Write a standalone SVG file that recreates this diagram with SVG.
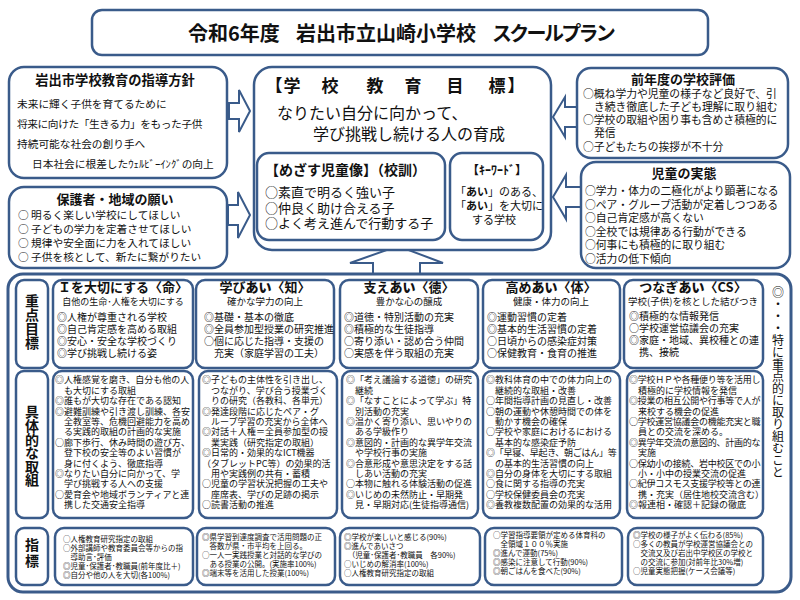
<svg xmlns="http://www.w3.org/2000/svg" width="800" height="600" viewBox="0 0 800 600">
<style>
.b{fill:#fff;stroke:#3a5b8a;stroke-width:2.5}
.bo{fill:#fff;stroke:#3a5b8a;stroke-width:3}
.ar{fill:#fff;stroke:#3a5b8a;stroke-width:2;stroke-linejoin:miter}
text{font-family:"Noto Sans CJK JP","Noto Sans CJK SC",sans-serif;fill:#111}
.h{font-weight:bold}
.m{text-anchor:middle}
.s1{font-size:10.7px}
.s2{font-size:10.8px}
.r1{font-size:10px}
.r2{font-size:9px}
.r3{font-size:7.5px}
.sub{font-size:9.5px}
.ct{font-size:13px;font-weight:bold;text-anchor:middle}
.vl{writing-mode:vertical-rl;font-size:14px;font-weight:bold}
.vt{writing-mode:vertical-rl;font-size:12px}
.tight{letter-spacing:-0.25px}
</style>
<rect width="800" height="600" fill="#fff"/>

<g id="connectors">
  <polygon class="ar" points="229,103 239,103 239,90 250,111 239,132 239,119 229,119"/>
  <polygon class="ar" points="228,205 238,205 238,192 250,215 238,238 238,225 228,225"/>
  <polygon class="ar" points="577,107 565,107 565,97 553,117 565,137 565,127 577,127"/>
  <polygon class="ar" points="582,187 566,187 566,175 553,197 566,219 566,207 582,207"/>
  <polyline class="ar" points="373,276 373,263 350,263 398,246 443,263 420,263 420,276"/>
</g>

<g id="title">
  <rect class="b" x="92" y="10" width="616" height="45" rx="10"/>
  <text class="h" font-size="20" y="40.5"><tspan x="188">令和6年度</tspan><tspan x="296">岩出市立山崎小学校</tspan><tspan x="492" letter-spacing="-2.7">スクールプラン</tspan></text>
</g>

<g id="shidou">
  <rect class="b" x="9" y="67" width="218" height="111" rx="15"/>
  <text class="h m" x="115" y="85" font-size="13.3">岩出市学校教育の指導方針</text>
  <text class="s1"><tspan x="17" y="108">未来に輝く子供を育てるために</tspan><tspan x="17" y="128" letter-spacing="-0.4">将来に向けた「生きる力」をもった子供</tspan><tspan x="17" y="148">持続可能な社会の創り手へ</tspan><tspan x="32" y="168">日本社会に根差したｳｪﾙﾋﾞｰｲﾝｸﾞの向上</tspan></text>
</g>

<g id="negai">
  <rect class="b" x="9" y="187" width="218" height="81" rx="15"/>
  <text class="h m" x="115" y="204" font-size="13">保護者・地域の願い</text>
  <text class="s1"><tspan x="18" y="219">○ 明るく楽しい学校にしてほしい</tspan><tspan x="18" y="233">○ 子どもの学力を定着させてほしい</tspan><tspan x="18" y="247">○ 規律や安全面に力を入れてほしい</tspan><tspan x="18" y="261">○ 子供を核として、新たに繋がりたい</tspan></text>
</g>

<g id="mokuhyo">
  <rect class="b" x="254" y="67" width="297" height="183" rx="18"/>
  <text class="h m" font-size="17" y="91.5"><tspan x="274">【</tspan><tspan x="292">学</tspan><tspan x="330">校</tspan><tspan x="375">教</tspan><tspan x="413">育</tspan><tspan x="455">目</tspan><tspan x="497">標</tspan><tspan x="516">】</tspan></text>
  <text font-size="16"><tspan x="277" y="119">なりたい自分に向かって、</tspan><tspan x="313" y="140">学び挑戦し続ける人の育成</tspan></text>
</g>

<g id="jidouzou">
  <rect class="b" x="257" y="153" width="188" height="87" rx="12"/>
  <text x="265" y="175.3" font-size="14" font-weight="bold">【めざす児童像】（校訓）</text>
  <text font-size="13"><tspan x="265" y="197">○素直で明るく強い子</tspan><tspan x="265" y="213">○仲良く助け合える子</tspan><tspan x="265" y="228">○よく考え進んで行動する子</tspan></text>
</g>

<g id="keyword">
  <rect class="b" x="450" y="153" width="93" height="87" rx="12"/>
  <text class="h m" x="497" y="174.5" font-size="12">【ｷｰﾜｰﾄﾞ】</text>
  <text font-size="11"><tspan x="455" y="196">「</tspan><tspan font-weight="bold">あい</tspan><tspan>」のある、</tspan><tspan x="455" y="210">「</tspan><tspan font-weight="bold">あい</tspan><tspan>」を大切に</tspan><tspan x="472" y="224">する学校</tspan></text>
</g>

<g id="hyouka">
  <rect class="b" x="577" y="68" width="211" height="90" rx="14"/>
  <text class="h m" x="683" y="84" font-size="13">前年度の学校評価</text>
  <text class="s2"><tspan x="583" y="98">○概ね学力や児童の様子など良好で、引</tspan><tspan x="594" y="111">き続き徹底した子ども理解に取り組む</tspan><tspan x="583" y="124">○学校の取組や困り事も含めさ積極的に</tspan><tspan x="594" y="137">発信</tspan><tspan x="583" y="151">○子どもたちの挨拶が不十分</tspan></text>
</g>

<g id="jittai">
  <rect class="b" x="581" y="162" width="209" height="106" rx="15"/>
  <text class="h m" x="684" y="178" font-size="13">児童の実態</text>
  <text class="s2"><tspan x="585" y="195">○学力・体力の二極化がより顕著になる</tspan><tspan x="585" y="208.5">○ペア・グループ活動が定着しつつある</tspan><tspan x="585" y="222">○自己肯定感が高くない</tspan><tspan x="585" y="235.5">○全校では規律ある行動ができる</tspan><tspan x="585" y="249">○何事にも積極的に取り組む</tspan><tspan x="585" y="262.5">○活力の低下傾向</tspan></text>
</g>

<g id="plan">
  <rect class="bo" x="8" y="274" width="783" height="318" rx="15"/>
</g>

<g id="label-juten">
  <rect class="b" x="16" y="280" width="32" height="88" rx="8"/>
  <text class="vl" x="32" y="294">重点目標</text>
</g>
<g id="label-torikumi">
  <rect class="b" x="16" y="371" width="32" height="147" rx="8"/>
  <text class="vl" x="32" y="405" letter-spacing="-0.4">具体的な取組</text>
</g>
<g id="label-shihyo">
  <rect class="b" x="16" y="528" width="32" height="57" rx="8"/>
  <text class="vl" x="32" y="538" font-size="16" letter-spacing="2">指標</text>
</g>

<g id="note">
  <text class="vt" x="778" y="286">◎・・・特に重点的に取り組むこと</text>
</g>

<g id="juten-inochi">
  <rect class="b" x="53" y="280" width="140" height="88" rx="9"/>
  <text class="ct" x="123" y="292">Ｉを大切にする〈命〉</text>
  <text class="m" x="123" y="304.6" font-size="9">自他の生命･人権を大切にする</text>
  <text class="r1"><tspan x="57" y="320.8">◎人権が尊重される学校</tspan><tspan x="57" y="332.8">◎自己肯定感を高める取組</tspan><tspan x="57" y="344.8">◎安心・安全な学校づくり</tspan><tspan x="57" y="356.8">◎学び挑戦し続ける姿</tspan></text>
</g>
<g id="juten-chi">
  <rect class="b" x="196" y="280" width="138" height="88" rx="9"/>
  <text class="ct" x="265" y="292">学び<tspan font-weight="900">あい</tspan>〈知〉</text>
  <text class="sub m" x="265" y="304.6">確かな学力の向上</text>
  <text class="r1"><tspan x="204" y="320.8">◎基礎・基本の徹底</tspan><tspan x="204" y="332.8">◎全員参加型授業の研究推進</tspan><tspan x="204" y="344.8">○個に応じた指導・支援の</tspan><tspan x="204" y="356.8">　充実（家庭学習の工夫）</tspan></text>
</g>
<g id="juten-toku">
  <rect class="b" x="340" y="280" width="138" height="88" rx="9"/>
  <text class="ct" x="409" y="292">支え<tspan font-weight="900">あい</tspan>〈徳〉</text>
  <text class="sub m" x="409" y="304.6">豊かな心の醸成</text>
  <text class="r1"><tspan x="344" y="320.8">◎道徳・特別活動の充実</tspan><tspan x="344" y="332.8">◎積極的な生徒指導</tspan><tspan x="344" y="344.8">○寄り添い・認め合う仲間</tspan><tspan x="344" y="356.8">○実感を伴う取組の充実</tspan></text>
</g>
<g id="juten-tai">
  <rect class="b" x="483" y="280" width="137" height="88" rx="9"/>
  <text class="ct" x="551" y="292">高め<tspan font-weight="900">あい</tspan>〈体〉</text>
  <text class="sub m" x="551" y="304.6">健康・体力の向上</text>
  <text class="r1"><tspan x="487" y="320.8">◎運動習慣の定着</tspan><tspan x="487" y="332.8">◎基本的生活習慣の定着</tspan><tspan x="487" y="344.8">○日頃からの感染症対策</tspan><tspan x="487" y="356.8">○保健教育・食育の推進</tspan></text>
</g>
<g id="juten-cs">
  <rect class="b" x="624" y="280" width="139" height="88" rx="9"/>
  <text class="ct" x="693" y="292">つなぎ<tspan font-weight="900">あい</tspan>〈CS〉</text>
  <text class="sub m" x="693" y="304.6">学校(子供)を核とした結びつき</text>
  <text class="r1"><tspan x="629" y="319.8">◎積極的な情報発信</tspan><tspan x="629" y="331.8">○学校運営協議会の充実</tspan><tspan x="629" y="343.8">◎家庭・地域、異校種との連</tspan><tspan x="639" y="355.8">携、接続</tspan></text>
</g>

<g id="torikumi-inochi">
  <rect class="b" x="53" y="371" width="140" height="147" rx="9"/>
  <text class="r2"><tspan x="55" y="383.4">◎人権感覚を磨き、自分も他の人</tspan><tspan x="55" y="393.8">　も大切にする取組</tspan><tspan x="55" y="404.2">◎誰もが大切な存在である認知</tspan><tspan x="55" y="414.6">◎避難訓練や引き渡し訓練、各安</tspan><tspan x="55" y="425">　全教室等、危機回避能力を高め</tspan><tspan x="55" y="435.4">　る実践的取組の計画的な実施</tspan><tspan x="55" y="445.8">○廊下歩行、休み時間の遊び方、</tspan><tspan x="55" y="456.2">　登下校の安全等のよい習慣が</tspan><tspan x="55" y="466.6">　身に付くよう、徹底指導</tspan><tspan x="55" y="477">◎なりたい自分に向かって、学</tspan><tspan x="55" y="487.4">　学び挑戦する人への支援</tspan><tspan x="55" y="497.8">○愛育会や地域ボランティアと連</tspan><tspan x="55" y="508.2">　携した交通安全指導</tspan></text>
</g>
<g id="torikumi-chi">
  <rect class="b" x="199" y="371" width="138" height="147" rx="9"/>
  <text class="r2"><tspan x="202" y="383.4">◎子どもの主体性を引き出し、</tspan><tspan x="202" y="393.8">　つながり、学び合う授業づく</tspan><tspan x="202" y="404.2">　りの研究（各教科、各単元）</tspan><tspan x="202" y="414.6">◎発達段階に応じたペア・グ</tspan><tspan x="202" y="425">　ループ学習の充実から全体へ</tspan><tspan x="202" y="435.4">◎対話＋人権＝全員参加型の授</tspan><tspan x="202" y="445.8">　業実践（研究指定の取組）</tspan><tspan x="202" y="456.2">◎日常的・効果的なICT機器</tspan><tspan x="202" y="466.6">（タブレットPC等）の効果的活</tspan><tspan x="202" y="477">　用や実践例の共有・蓄積</tspan><tspan x="202" y="487.4">○児童の学習状況把握の工夫や</tspan><tspan x="202" y="497.8">　座席表、学びの足跡の掲示</tspan><tspan x="202" y="508.2">○読書活動の推進</tspan></text>
</g>
<g id="torikumi-toku">
  <rect class="b" x="342" y="371" width="136" height="147" rx="9"/>
  <text class="r2"><tspan x="346" y="383.4">◎「考え議論する道徳」の研究</tspan><tspan x="346" y="393.8">　継続</tspan><tspan x="346" y="404.2">◎「なすことによって学ぶ」特</tspan><tspan x="346" y="414.6">　別活動の充実</tspan><tspan x="346" y="425">◎温かく寄り添い、思いやりの</tspan><tspan x="346" y="435.4">　ある学級作り</tspan><tspan x="346" y="445.8">◎意図的・計画的な異学年交流</tspan><tspan x="346" y="456.2">　や学校行事の実施</tspan><tspan x="346" y="466.6">◎合意形成や意思決定をする話</tspan><tspan x="346" y="477">　しあい活動の充実</tspan><tspan x="346" y="487.4">○本物に触れる体験活動の促進</tspan><tspan x="346" y="497.8">◎いじめの未然防止・早期発</tspan><tspan x="346" y="508.2">　見・早期対応(生徒指導通信)</tspan></text>
</g>
<g id="torikumi-tai">
  <rect class="b" x="483" y="371" width="137" height="147" rx="9"/>
  <text class="r2"><tspan x="486" y="383.4">◎教科体育の中での体力向上の</tspan><tspan x="486" y="393.8">　継続的な取組・改善</tspan><tspan x="486" y="404.2">○年間指導計画の見直し・改善</tspan><tspan x="486" y="414.6">○朝の運動や休憩時間での体を</tspan><tspan x="486" y="425">　動かす機会の確保</tspan><tspan x="486" y="435.4">○学校や家庭におけるにおける</tspan><tspan x="486" y="445.8">　基本的な感染症予防</tspan><tspan x="486" y="456.2" class="tight">◎「早寝、早起き、朝ごはん」等</tspan><tspan x="486" y="466.6">　の基本的生活習慣の向上</tspan><tspan x="486" y="477">◎自分の身体を大切にする取組</tspan><tspan x="486" y="487.4">○食に関する指導の充実</tspan><tspan x="486" y="497.8">○学校保健委員会の充実</tspan><tspan x="486" y="508.2">◎養教複数配置の効果的な活用</tspan></text>
</g>
<g id="torikumi-cs">
  <rect class="b" x="627" y="371" width="136" height="147" rx="9"/>
  <text class="r2"><tspan x="629" y="383.4" class="tight">◎学校ＨＰや各種便り等を活用し</tspan><tspan x="629" y="393.8">　積極的に学校情報を発信</tspan><tspan x="629" y="404.2" class="tight">◎授業の相互公開や行事等で人が</tspan><tspan x="629" y="414.6">　来校する機会の促進</tspan><tspan x="629" y="425" class="tight">○学校運営協議会の機能充実と職</tspan><tspan x="629" y="435.4">　員との交流を深める。</tspan><tspan x="629" y="445.8" class="tight">◎異学年交流の意図的、計画的な</tspan><tspan x="629" y="456.2">　実施</tspan><tspan x="629" y="466.6" class="tight">○保幼小の接続、岩中校区での小</tspan><tspan x="629" y="477">　小・小中の授業交流の促進</tspan><tspan x="629" y="487.4" class="tight">○紀伊コスモス支援学校等との連</tspan><tspan x="629" y="497.8">　携・充実（居住地校交流含む）</tspan><tspan x="629" y="508.2">◎報連相・確認＋記録の徹底</tspan></text>
</g>

<g id="shihyo-inochi">
  <rect class="b" x="55" y="528" width="138" height="57" rx="9"/>
  <text class="r3"><tspan x="63" y="541.5">○人権教育研究指定の取組</tspan><tspan x="63" y="550.5">○外部講師や教育委員会等からの指</tspan><tspan x="63" y="559.5">　導助言･評価</tspan><tspan x="63" y="568.5">◎児童･保護者･教職員(前年度比＋)</tspan><tspan x="63" y="577.5">◎自分や他の人を大切(各100%)</tspan></text>
</g>
<g id="shihyo-chi">
  <rect class="b" x="197" y="528" width="138" height="57" rx="9"/>
  <text class="r3"><tspan x="202" y="539.8">◎県学習到達度調査で活用問題の正</tspan><tspan x="202" y="548.8">　答数が県・市平均を上回る。</tspan><tspan x="202" y="557.8">○一人一実践授業と対話的な学びの</tspan><tspan x="202" y="566.8">　ある授業の公開。(実施率100%)</tspan><tspan x="202" y="575.8">◎端末等を活用した授業(100%)</tspan></text>
</g>
<g id="shihyo-toku">
  <rect class="b" x="340" y="528" width="140" height="57" rx="9"/>
  <text class="r3"><tspan x="344" y="539.8">◎学校が楽しいと感じる(90%)</tspan><tspan x="344" y="548.8">◎進んであいさつ</tspan><tspan x="344" y="557.8">　（児童･保護者･教職員　各90%)</tspan><tspan x="344" y="566.8">○いじめの解消率(100%)</tspan><tspan x="344" y="575.8">○人権教育研究指定の取組</tspan></text>
</g>
<g id="shihyo-tai">
  <rect class="b" x="485" y="528" width="137" height="57" rx="9"/>
  <text class="r3"><tspan x="493" y="538">○学習指導要領が定める体育科の</tspan><tspan x="493" y="547">　全領域１００％実施</tspan><tspan x="493" y="556">◎進んで運動(75%)</tspan><tspan x="493" y="565">◎感染に注意して行動(90%)</tspan><tspan x="493" y="574">◎朝ごはんを食べた(90%)</tspan></text>
</g>
<g id="shihyo-cs">
  <rect class="b" x="628" y="528" width="135" height="57" rx="9"/>
  <text class="r3"><tspan x="633" y="538">◎学校の様子がよく伝わる(85%)</tspan><tspan x="633" y="547">○多くの教員が学校運営協議会との</tspan><tspan x="633" y="556">　交流又及び岩出中学校区の学校と</tspan><tspan x="633" y="565">　の交流に参加(対前年比30%増)</tspan><tspan x="633" y="574">○児童実態把握(ケース会議等)</tspan></text>
</g>
</svg>
